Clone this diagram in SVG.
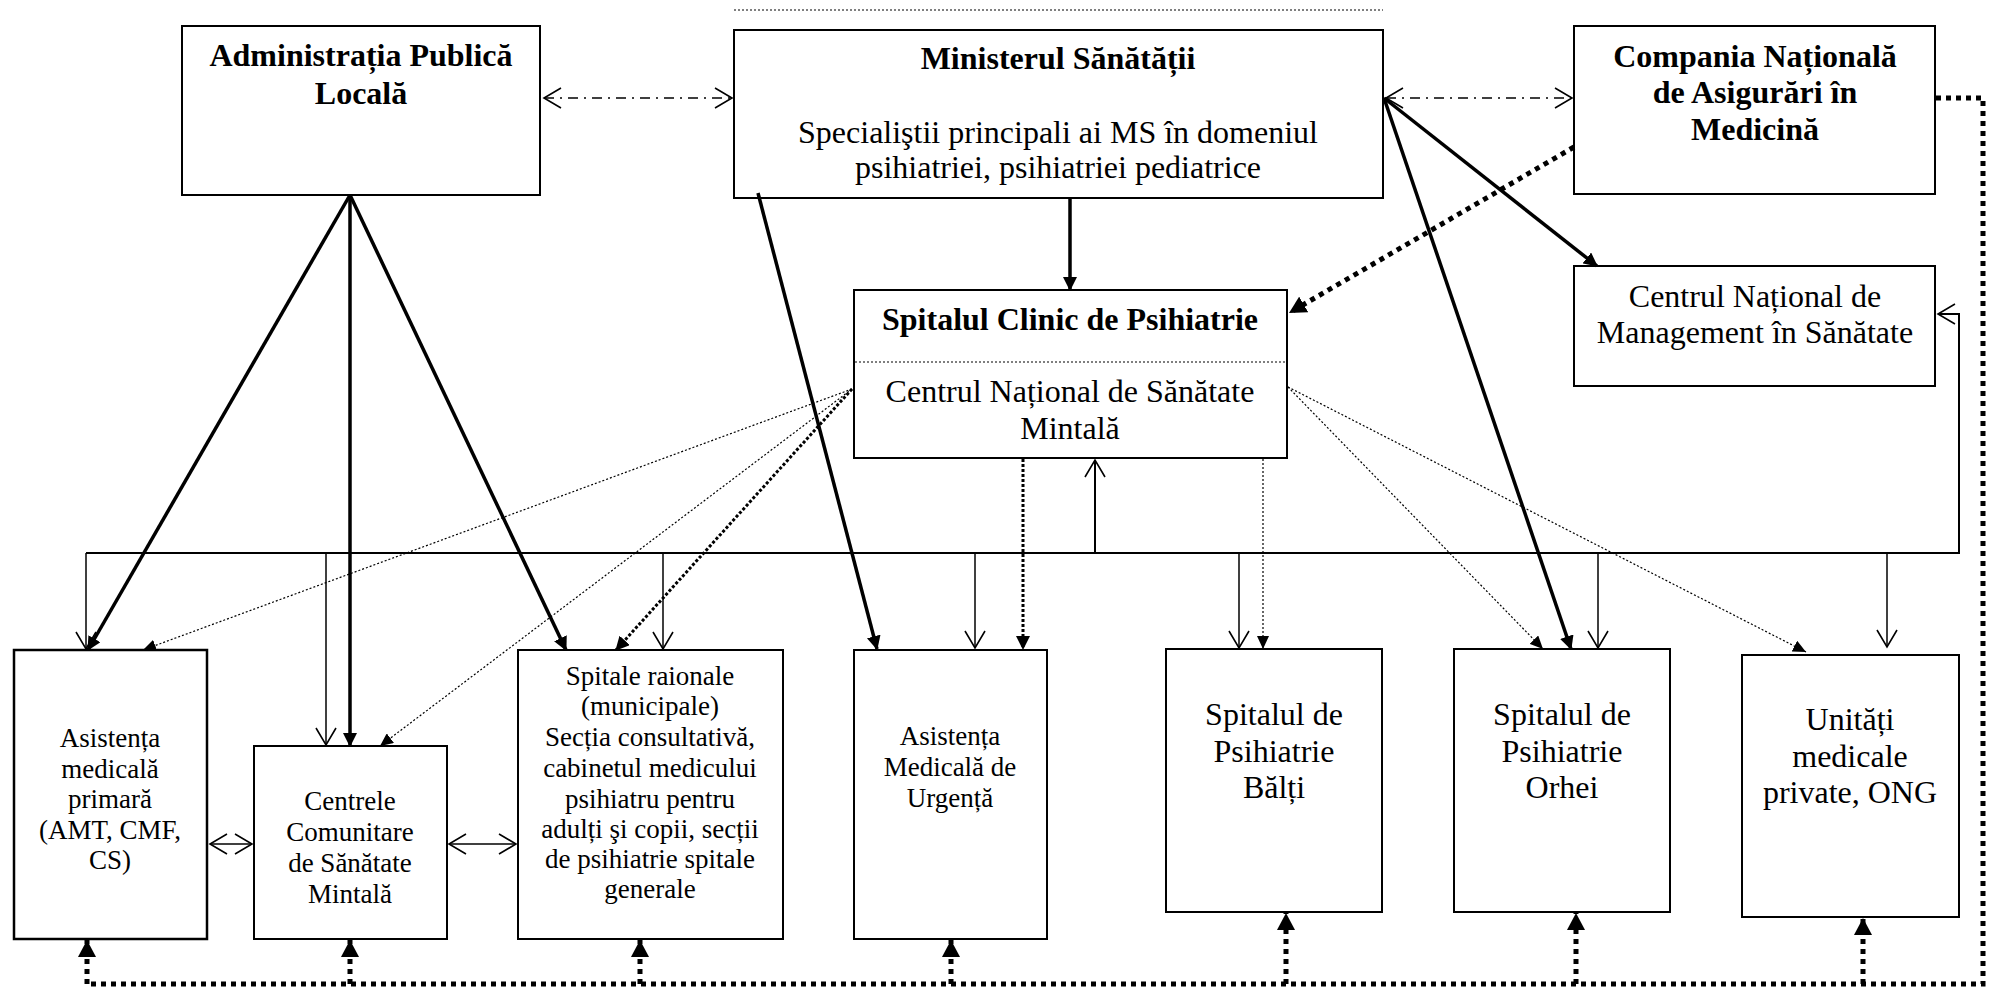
<svg xmlns="http://www.w3.org/2000/svg" width="1990" height="992" viewBox="0 0 1990 992">
<style>
.box{fill:#fff;stroke:#000;stroke-width:2}
.thick{stroke:#000;stroke-width:3.5;fill:none}
.thin{stroke:#000;stroke-width:1.5;fill:none}
.bus{stroke:#000;stroke-width:2;fill:none}
.hd{stroke:#000;stroke-width:5;stroke-dasharray:5 5;fill:none}
.md{stroke:#000;stroke-width:3;stroke-dasharray:3 2;fill:none}
.td{stroke:#000;stroke-width:1.2;stroke-dasharray:2 2;fill:none}
.dd{stroke:#000;stroke-width:1.5;stroke-dasharray:10 6 2 6;fill:none}
text{font-family:"Liberation Serif","Times New Roman",serif;text-anchor:middle;fill:#000}
.b{font-size:32px;font-weight:bold}
.r{font-size:32px}
.s{font-size:27px}
</style>
<defs>
<marker id="fa" viewBox="0 0 14 14" refX="13" refY="7" markerWidth="14" markerHeight="14" markerUnits="userSpaceOnUse" orient="auto"><path d="M0,0L14,7L0,14z"/></marker>
<marker id="fs" viewBox="0 0 13 12" refX="13" refY="6" markerWidth="13" markerHeight="12" markerUnits="userSpaceOnUse" orient="auto"><path d="M0,0L13,6L0,12z"/></marker>
<marker id="fb" viewBox="0 0 17 18" refX="17" refY="9" markerWidth="17" markerHeight="18" markerUnits="userSpaceOnUse" orient="auto"><path d="M0,0L17,9L0,18z"/></marker>
<marker id="oa" viewBox="-1 -1 20 22" refX="17" refY="10" markerWidth="20" markerHeight="22" markerUnits="userSpaceOnUse" orient="auto-start-reverse"><path d="M0,0L17,10L0,20" fill="none" stroke="#000" stroke-width="1.6"/></marker>
</defs>

<g id="node-admin">
<rect class="box" x="182" y="26" width="358" height="169"/>
<text class="b" x="361" y="66">Administrația Publică</text>
<text class="b" x="361" y="104">Locală</text>
</g>
<g id="node-ministerul">
<rect class="box" x="734" y="30" width="649" height="168"/>
<text class="b" x="1058" y="69">Ministerul Sănătății</text>
<text class="r" x="1058" y="143">Specialiştii principali ai MS în domeniul</text>
<text class="r" x="1058" y="178">psihiatriei, psihiatriei pediatrice</text>
</g>
<g id="node-compania">
<rect class="box" x="1574" y="26" width="361" height="168"/>
<text class="b" x="1755" y="67">Compania Națională</text>
<text class="b" x="1755" y="103">de Asigurări în</text>
<text class="b" x="1755" y="140">Medicină</text>
</g>
<g id="node-cnms">
<rect class="box" x="1574" y="266" width="361" height="120"/>
<text class="r" x="1755" y="307">Centrul Național de</text>
<text class="r" x="1755" y="343">Management în Sănătate</text>
</g>
<g id="node-spitalul-clinic">
<rect class="box" x="854" y="290" width="433" height="168"/>
<line class="td" x1="855" y1="362" x2="1286" y2="362"/>
<text class="b" x="1070" y="330">Spitalul Clinic de Psihiatrie</text>
<text class="r" x="1070" y="402">Centrul Național de Sănătate</text>
<text class="r" x="1070" y="439">Mintală</text>
</g>
<g id="node-amp">
<rect class="box" x="14" y="650" width="193" height="289" style="stroke-width:2.5"/>
<text class="s" x="110" y="747">Asistența</text>
<text class="s" x="110" y="778">medicală</text>
<text class="s" x="110" y="808">primară</text>
<text class="s" x="110" y="839">(AMT, CMF,</text>
<text class="s" x="110" y="869">CS)</text>
</g>
<g id="node-ccsm">
<rect class="box" x="254" y="746" width="193" height="193"/>
<text class="s" x="350" y="810">Centrele</text>
<text class="s" x="350" y="841">Comunitare</text>
<text class="s" x="350" y="872">de Sănătate</text>
<text class="s" x="350" y="903">Mintală</text>
</g>
<g id="node-spitale-raionale">
<rect class="box" x="518" y="650" width="265" height="289"/>
<text class="s" x="650" y="685">Spitale raionale</text>
<text class="s" x="650" y="715">(municipale)</text>
<text class="s" x="650" y="746">Secția consultativă,</text>
<text class="s" x="650" y="777">cabinetul medicului</text>
<text class="s" x="650" y="808">psihiatru pentru</text>
<text class="s" x="650" y="838">adulți şi copii, secții</text>
<text class="s" x="650" y="868">de psihiatrie spitale</text>
<text class="s" x="650" y="898">generale</text>
</g>
<g id="node-amu">
<rect class="box" x="854" y="650" width="193" height="289"/>
<text class="s" x="950" y="745">Asistența</text>
<text class="s" x="950" y="776">Medicală de</text>
<text class="s" x="950" y="807">Urgență</text>
</g>
<g id="node-balti">
<rect class="box" x="1166" y="649" width="216" height="263"/>
<text class="r" x="1274" y="725">Spitalul de</text>
<text class="r" x="1274" y="762">Psihiatrie</text>
<text class="r" x="1274" y="798">Bălți</text>
</g>
<g id="node-orhei">
<rect class="box" x="1454" y="649" width="216" height="263"/>
<text class="r" x="1562" y="725">Spitalul de</text>
<text class="r" x="1562" y="762">Psihiatrie</text>
<text class="r" x="1562" y="798">Orhei</text>
</g>
<g id="node-unitati">
<rect class="box" x="1742" y="655" width="217" height="262"/>
<text class="r" x="1850" y="730">Unități</text>
<text class="r" x="1850" y="767">medicale</text>
<text class="r" x="1850" y="803">private, ONG</text>
</g>

<g id="connectors">
<!-- top dotted line -->
<line class="td" x1="734" y1="10" x2="1383" y2="10"/>
<!-- dash-dot bidirectional -->
<line class="dd" x1="544" y1="98" x2="732" y2="98" marker-start="url(#oa)" marker-end="url(#oa)"/>
<line class="dd" x1="1386" y1="98" x2="1572" y2="98" marker-start="url(#oa)" marker-end="url(#oa)"/>
<!-- thick arrows from Admin -->
<line class="thick" x1="350" y1="195" x2="88" y2="650" marker-end="url(#fa)"/>
<line class="thick" x1="350" y1="195" x2="350" y2="746" marker-end="url(#fa)"/>
<line class="thick" x1="350" y1="195" x2="566" y2="650" marker-end="url(#fa)"/>
<!-- thick arrows from Ministerul -->
<line class="thick" x1="758" y1="193" x2="877" y2="649" marker-end="url(#fa)"/>
<line class="thick" x1="1070" y1="198" x2="1070" y2="290" marker-end="url(#fa)"/>
<line class="thick" x1="1384" y1="98" x2="1597" y2="266" marker-end="url(#fa)"/>
<line class="thick" x1="1384" y1="98" x2="1571" y2="649" marker-end="url(#fa)"/>
<!-- heavy dotted from Compania to Spitalul Clinic -->
<line class="hd" x1="1574" y1="147" x2="1289" y2="313" marker-end="url(#fb)"/>
<!-- heavy dotted loop -->
<path class="hd" d="M1936,98H1983V984H87"/>
<line class="hd" x1="87" y1="984" x2="87" y2="940" marker-end="url(#fb)"/>
<line class="hd" x1="350" y1="984" x2="350" y2="940" marker-end="url(#fb)"/>
<line class="hd" x1="640" y1="984" x2="640" y2="940" marker-end="url(#fb)"/>
<line class="hd" x1="951" y1="984" x2="951" y2="940" marker-end="url(#fb)"/>
<line class="hd" x1="1286" y1="984" x2="1286" y2="913" marker-end="url(#fb)"/>
<line class="hd" x1="1576" y1="984" x2="1576" y2="913" marker-end="url(#fb)"/>
<line class="hd" x1="1863" y1="984" x2="1863" y2="918" marker-end="url(#fb)"/>
<!-- bus -->
<path class="bus" d="M86,553H1959V314H1938" marker-end="url(#oa)"/>
<line class="thin" x1="86" y1="553" x2="86" y2="649" marker-end="url(#oa)"/>
<line class="thin" x1="326" y1="553" x2="326" y2="745" marker-end="url(#oa)"/>
<line class="thin" x1="663" y1="553" x2="663" y2="649" marker-end="url(#oa)"/>
<line class="thin" x1="975" y1="553" x2="975" y2="648" marker-end="url(#oa)"/>
<line class="thin" x1="1239" y1="553" x2="1239" y2="648" marker-end="url(#oa)"/>
<line class="thin" x1="1598" y1="553" x2="1598" y2="648" marker-end="url(#oa)"/>
<line class="thin" x1="1887" y1="553" x2="1887" y2="647" marker-end="url(#oa)"/>
<line class="bus" x1="1095" y1="553" x2="1095" y2="460" marker-end="url(#oa)"/>
<!-- double arrows -->
<line class="thin" x1="210" y1="844" x2="252" y2="844" marker-start="url(#oa)" marker-end="url(#oa)"/>
<line class="thin" x1="449" y1="844" x2="516" y2="844" marker-start="url(#oa)" marker-end="url(#oa)"/>
<!-- dotted from Spitalul Clinic -->
<line class="td" x1="852" y1="389" x2="143" y2="650" marker-end="url(#fs)"/>
<line class="td" x1="852" y1="389" x2="380" y2="746" marker-end="url(#fs)"/>
<line class="md" x1="852" y1="389" x2="616" y2="650" marker-end="url(#fa)"/>
<line class="md" x1="1023" y1="459" x2="1023" y2="649" marker-end="url(#fa)"/>
<line class="td" x1="1263" y1="459" x2="1263" y2="649" marker-end="url(#fs)"/>
<line class="td" x1="1288" y1="387" x2="1543" y2="649" marker-end="url(#fs)"/>
<line class="td" x1="1288" y1="387" x2="1806" y2="652" marker-end="url(#fs)"/>
</g>
</svg>
